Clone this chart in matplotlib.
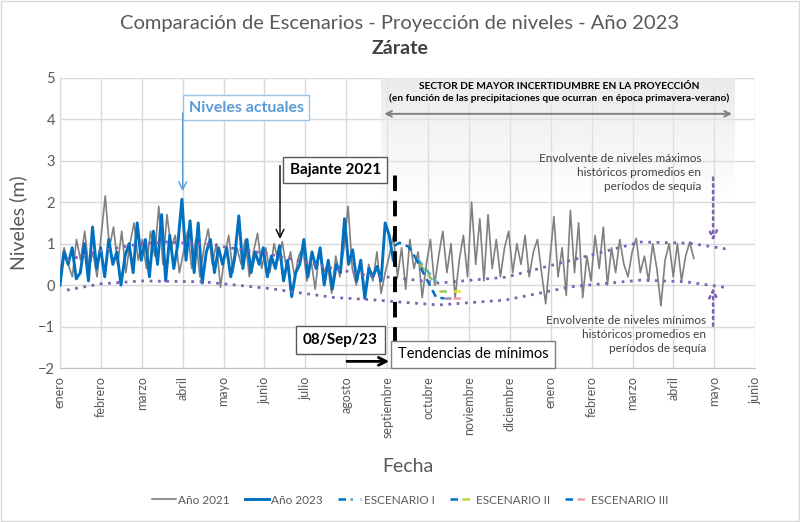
import numpy as np
import matplotlib.pyplot as plt
from matplotlib.lines import Line2D
from matplotlib.legend_handler import HandlerTuple
from matplotlib.patches import Rectangle

plt.rcParams['font.family'] = ['Lato', 'DejaVu Sans']

# eje x en meses desde enero 2023
meses = ['enero', 'febrero', 'marzo', 'abril', 'mayo', 'junio', 'julio', 'agosto',
         'septiembre', 'octubre', 'noviembre', 'diciembre', 'enero', 'febrero',
         'marzo', 'abril', 'mayo', 'junio']

# Año 2021 (niveles en m)
nivel_2021 = [
    0.3, 0.9, 0.5, 0.2, 1.1, 0.6, 1.3, 0.4, 0.8, 0.2,
    1.2, 2.15, 0.9, 1.4, 0.5, 1.3, 0.3, 1.0, 1.5, 0.6,
    1.1, 0.4, 1.3, 0.7, 1.9, 0.5, 1.7, 0.9, 1.2, 0.3,
    0.8, 1.3, 0.4, 1.1, 0.2, 0.9, 1.35, 0.5, 1.0, -0.05,
    0.7, 1.2, 0.3, 0.9, 0.5, 1.1, 0.2, 0.8, 1.25, 0.4,
    0.9, 0.3, 1.0, 0.6, 1.05, 0.4, 0.8, 0.2, 0.7, 0.9,
    0.1, 0.6, -0.1, 0.8, 0.3, 0.5, -0.2, 0.7, 0.2, 0.9,
    1.9, 0.4, 0.0, 0.6, -0.3, 0.5, 0.1, 0.8, -0.2, 0.3,
    0.7, 1.2, 0.2, 0.9, -0.1, 1.1, 0.4, 0.8, -0.3, 0.5,
    1.1, 0.0, 0.7, 1.3, 0.3, 1.0, -0.3, 0.6, 1.2, 0.2,
    2.0, 0.5, 1.6, 0.1, 1.7, 0.4, 1.1, 0.2, 0.9, 1.3,
    0.3, 1.0, 0.5, 1.2, 0.2, 0.8, 1.1, 0.3, -0.45, 0.6,
    1.65, 0.2, 0.9, -0.25, 1.8, 0.3, 1.5, -0.3, 0.7, 0.1,
    1.2, 0.4, 1.4, 0.0, 0.9, 0.3, 1.1, 0.5, 0.2, 0.8,
    1.13, 0.3, 0.7, 0.1, 1.0, 0.4, -0.5, 0.6, 1.0, 0.2,
    1.0, 0.1, 0.7, 1.04, 0.64]
fin_2021 = 15.5

# Año 2023 hasta el 08/Sep/23
nivel_2023 = [
    0.0, 0.8, 0.5, 0.9, 0.15, 0.3, 1.0, 0.1, 1.4, 0.4,
    0.9, 0.2, 1.1, 0.5, 0.8, 0.0, 0.7, 1.0, 0.3, 1.5,
    0.6, 1.1, 0.2, 1.3, 0.5, 1.7, 0.1, 1.2, 0.4, 1.0,
    2.07, 0.6, 1.55, 0.3, 1.5, 0.05, 0.8, 1.1, 0.3, 0.9,
    0.5, 0.9, 0.2, 0.7, 1.67, 0.4, 1.1, 0.3, 0.8, 0.5,
    0.9, 0.2, 0.7, 0.4, 0.95, 0.1, 0.6, -0.28, 0.3, 0.5,
    1.1, 0.2, 0.8, 0.4, 0.9, 0.0, 0.6, -0.1, 0.5, 0.3,
    1.6, 0.5, 0.85, 0.1, 0.6, -0.32, 0.4, 0.2, 0.45, 0.1,
    1.5, 1.2, 0.6]
fin_2023 = 8.15

# envolventes históricas en sequía
env_max_x = [0.17, 1.0, 2.0, 2.6, 3.6, 5.1, 6.7, 7.6, 8.2, 9.26, 10.9, 12.5, 14.2, 15.4, 16.3]
env_max_v = [0.6, 0.83, 1.0, 1.04, 0.99, 0.75, 0.4, 0.22, 0.18, 0.05, 0.19, 0.6, 1.04, 1.01, 0.87]
env_min_x = [0.17, 1.0, 2.0, 3.5, 5.1, 6.7, 7.6, 8.2, 9.26, 10.9, 12.5, 14.2, 15.3, 16.3]
env_min_v = [-0.12, 0.03, 0.1, 0.08, -0.08, -0.3, -0.35, -0.4, -0.48, -0.36, -0.04, 0.12, 0.08, -0.06]

# escenarios
esc_comun_x = [8.18, 8.3, 8.52, 8.68]
esc_comun_v = [0.95, 1.02, 0.93, 0.68]
esc1_x = [8.75, 9.2]
esc1_v = [0.62, 0.08]
esc2_x = [8.8, 9.2]
esc2_v = [0.5, 0.0]
esc2_flat_x = [9.26, 9.55]
esc2_yel_x = [9.6, 9.85]
esc2_flat_v = -0.15
esc3_x = [8.68, 9.2, 9.4]
esc3_v = [0.68, -0.3, -0.32]
esc3_lav_x = [9.4, 9.55]
esc3_pink_x = [9.6, 9.9]
esc3_flat_v = -0.32

azul = '#0070C0'
gris = '#808080'
violeta = '#8062B5'
texto = '#595959'

fig = plt.figure(figsize=(8, 5.22), dpi=100)
ax = fig.add_axes([0.075, 0.295, 0.869, 0.556])

# sector de mayor incertidumbre (degradé)
grad = np.ones((100, 2, 4))
grad[:, :, :3] = 0.91
grad[:, :, 3] = np.linspace(0.9, 0.0, 100)[:, None]
ax.imshow(grad, extent=[7.86, 16.5, 2.0, 5.0], aspect='auto', zorder=0.6,
          interpolation='bilinear')

x21 = np.linspace(0, fin_2021, len(nivel_2021))
x23 = np.linspace(0, fin_2023, len(nivel_2023))
ax.plot(x21, nivel_2021, color=gris, lw=1.2, zorder=3)
ax.plot(x23, nivel_2023, color=azul, lw=2.1, zorder=4)

ax.plot(env_max_x, env_max_v, color=violeta, lw=2, ls=(0, (1, 2)), zorder=5)
ax.plot(env_min_x, env_min_v, color=violeta, lw=2, ls=(0, (1, 2)), zorder=5)

dash = (0, (3, 2))
ax.plot(esc_comun_x, esc_comun_v, color=azul, lw=1.8, ls=dash, zorder=6)
ax.plot(esc1_x, esc1_v, color='#4BACC6', lw=1.8, ls=dash, zorder=6)
ax.plot(esc2_x, esc2_v, color='#9BBB59', lw=1.8, ls=dash, zorder=6)
ax.plot(esc2_flat_x, [esc2_flat_v] * 2, color='#92D050', lw=1.8, ls=dash, zorder=6)
ax.plot(esc2_yel_x, [esc2_flat_v] * 2, color='#E2E22A', lw=1.8, ls=dash, zorder=6)
ax.plot(esc3_x, esc3_v, color=azul, lw=1.8, ls=dash, zorder=6)
ax.plot(esc3_lav_x, [esc3_flat_v] * 2, color='#8E8EB8', lw=1.8, ls=dash, zorder=6)
ax.plot(esc3_pink_x, [esc3_flat_v] * 2, color='#F2A0A8', lw=1.8, ls=dash, zorder=6)

# línea de fecha actual
ax.plot([8.18, 8.18], [-2, 2.66], color='black', lw=2.8, ls=(0, (4, 2.5)), zorder=7)

ax.set_xlim(0, 17)
ax.set_ylim(-2, 5)
ax.set_xticks(range(len(meses)))
ax.set_xticklabels(meses, rotation=90, fontsize=9, color=texto)
ax.set_yticks(range(-2, 6))
ax.tick_params(axis='y', labelsize=10.5, colors=texto, length=0)
ax.tick_params(axis='x', length=0, pad=6)
ax.grid(True, color='#d9d9d9', lw=1)
ax.set_axisbelow(True)
for s in ['top', 'right']:
    ax.spines[s].set_visible(False)
ax.spines['left'].set_color('#d9d9d9')
ax.spines['bottom'].set_color('#bfbfbf')
ax.set_ylabel('Niveles (m)', fontsize=14, color=texto, labelpad=8)
ax.set_xlabel('Fecha', fontsize=14, color=texto, labelpad=14)

fig.text(0.5, 0.955, 'Comparación de Escenarios - Proyección de niveles - Año 2023',
         ha='center', va='center', fontsize=14.5, color=texto)
fig.text(0.5, 0.908, 'Zárate', ha='center', va='center', fontsize=14,
         fontweight='bold', color='#404040')

# anotaciones
ax.annotate('', xy=(16.5, 4.13), xytext=(7.86, 4.13),
            arrowprops=dict(arrowstyle='<->', color='#808080', lw=1.4), zorder=8)
ax.text(12.2, 4.8, 'SECTOR DE MAYOR INCERTIDUMBRE EN LA PROYECCIÓN', ha='center',
        va='center', fontsize=7.3, fontweight='bold', color='black', zorder=8)
ax.text(12.2, 4.5, '(en función de las precipitaciones que ocurran  en época primavera-verano)',
        ha='center', va='center', fontsize=7.3, fontweight='bold', color='black', zorder=8)

ax.text(4.55, 4.28, 'Niveles actuales', ha='center', va='center', fontsize=11.5,
        fontweight='bold', color='#5B9BD5', zorder=8,
        bbox=dict(boxstyle='square,pad=0.35', fc='white', ec='#9DC3E6', lw=1))
ax.annotate('', xy=(3.0, 2.2), xytext=(3.0, 4.22),
            arrowprops=dict(arrowstyle='->', color='#5B9BD5', lw=1, mutation_scale=14), zorder=8)

ax.text(6.73, 2.78, 'Bajante 2021', ha='center', va='center', fontsize=11,
        fontweight='bold', color='black', zorder=8,
        bbox=dict(boxstyle='square,pad=0.4', fc='white', ec='#595959', lw=1))
ax.annotate('', xy=(5.38, 1.05), xytext=(5.38, 2.95),
            arrowprops=dict(arrowstyle='->', color='black', lw=1, mutation_scale=14), zorder=8)

ax.text(6.86, -1.33, '08/Sep/23', ha='center', va='center', fontsize=11,
        fontweight='bold', color='black', zorder=8,
        bbox=dict(boxstyle='square,pad=0.45', fc='white', ec='#595959', lw=1))
ax.annotate('', xy=(8.12, -1.84), xytext=(6.95, -1.84),
            arrowprops=dict(arrowstyle='->', color='black', lw=2, mutation_scale=14), zorder=8)

ax.text(10.1, -1.67, 'Tendencias de mínimos', ha='center', va='center', fontsize=10.5,
        color='black', zorder=8,
        bbox=dict(boxstyle='square,pad=0.45', fc='white', ec='#7f7f7f', lw=1))

ax.text(15.68, 2.72, 'Envolvente de niveles máximos\nhistóricos promedios en\nperíodos de sequía',
        ha='right', va='center', fontsize=8.5, color='#404040', linespacing=1.35, zorder=8)
ax.annotate('', xy=(15.97, 1.0), xytext=(15.97, 2.66),
            arrowprops=dict(arrowstyle='->', color=violeta, lw=1.8, ls=':', mutation_scale=14), zorder=8)
ax.text(15.8, -1.2, 'Envolvente de niveles mínimos\nhistóricos promedios en\nperíodos de sequía',
        ha='right', va='center', fontsize=8.5, color='#404040', linespacing=1.35, zorder=8)
ax.annotate('', xy=(15.97, 0.0), xytext=(15.97, -1.05),
            arrowprops=dict(arrowstyle='->', color=violeta, lw=1.8, ls=':', mutation_scale=14), zorder=8)

# leyenda
h21 = Line2D([], [], color=gris, lw=1.2)
h23 = Line2D([], [], color=azul, lw=2.1)
hb = Line2D([], [], color=azul, lw=1.8, ls=(0, (3, 2)))
h1 = (hb, Line2D([], [], color='#4BACC6', lw=1.8, ls=(0, (1, 3))))
h2 = (hb, Line2D([], [], color='#C4D63A', lw=1.8, ls=(0, (3, 2))))
h3 = (hb, Line2D([], [], color='#F2A0A8', lw=1.8, ls=(0, (3, 2))))
fig.legend([h21, h23, h1, h2, h3],
           ['Año 2021', 'Año 2023', 'ESCENARIO I', 'ESCENARIO II', 'ESCENARIO III'],
           handler_map={tuple: HandlerTuple(ndivide=None, pad=0)},
           loc='center', bbox_to_anchor=(0.513, 0.042), ncol=5, frameon=False,
           fontsize=8.5, labelcolor=texto, handlelength=2.0, columnspacing=1.3,
           handletextpad=0.2)

fig.patches.append(Rectangle((0.001, 0.001), 0.998, 0.998, transform=fig.transFigure,
                             fill=False, ec='#d9d9d9', lw=1))

fig.savefig('out.png', dpi=100)
